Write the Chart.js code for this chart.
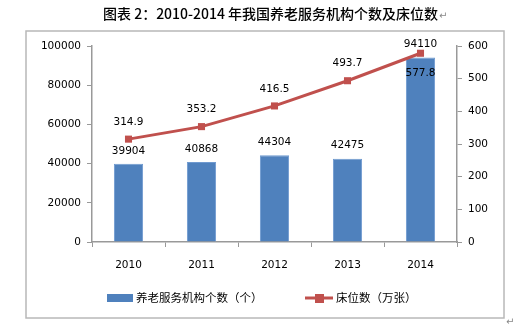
<!DOCTYPE html>
<html>
<head>
<meta charset="utf-8">
<script src="https://cdn.jsdelivr.net/npm/chart.js@4"></script>
<style>
  html, body { margin: 0; padding: 0; background: #fff; }
  #wrap { width: 525px; height: 333px; position: relative; }
</style>
</head>
<body>
<div id="wrap"><canvas id="grafico" width="525" height="333"></canvas></div>
<script>
const titulo = "图表 2：2010-2014 年我国养老服务机构个数及床位数";
const anos = ["2010", "2011", "2012", "2013", "2014"];
const instituicoes = [39904, 40868, 44304, 42475, 94110];
const leitos = [314.9, 353.2, 416.5, 493.7, 577.8];
const labelBarras = "养老服务机构个数（个）";
const labelLinha = "床位数（万张）";

const azul = "#4F81BD";
const vermelho = "#C0504D";
const numFont = "10.5px 'DejaVu Sans'";
const cjkFont = "'Noto Sans CJK SC'";

// moldura, titulo e legenda desenhados a mao
const extras = {
  id: "extras",
  afterDraw(chart) {
    const ctx = chart.ctx;
    ctx.save();
    ctx.strokeStyle = "#b8b8b8";
    ctx.lineWidth = 1.5;
    ctx.strokeRect(26, 31, 478, 287);

    ctx.fillStyle = "#000";
    ctx.font = "500 14px " + cjkFont;
    ctx.textBaseline = "middle";
    ctx.textAlign = "left";
    ctx.fillText(titulo, 103, 14);
    let w = ctx.measureText(titulo).width;
    ctx.fillStyle = "#888";
    ctx.font = "10px 'DejaVu Sans'";
    ctx.fillText("↵", 103 + w + 1, 16);
    ctx.fillText("↵", 506, 322);

    // legenda
    const barras = chart.data.datasets.find((d) => d.type === "bar");
    const linha = chart.data.datasets.find((d) => d.type === "line");
    const ly = 298;
    ctx.fillStyle = azul;
    ctx.fillRect(107, ly - 4, 26, 8);
    ctx.fillStyle = "#000";
    ctx.font = "11.5px " + cjkFont;
    ctx.fillText(barras.label, 136, ly);

    ctx.strokeStyle = vermelho;
    ctx.lineWidth = 3;
    ctx.beginPath();
    ctx.moveTo(305, ly);
    ctx.lineTo(333, ly);
    ctx.stroke();
    ctx.fillStyle = vermelho;
    ctx.fillRect(315, ly - 4, 9, 9);
    ctx.fillStyle = "#000";
    ctx.fillText(linha.label, 336, ly);
    ctx.restore();
  },
};

// rotulos de valores
const rotulos = {
  id: "rotulos",
  afterDatasetsDraw(chart) {
    const ctx = chart.ctx;
    ctx.save();
    ctx.font = numFont;
    ctx.fillStyle = "#000";
    ctx.textAlign = "center";
    ctx.textBaseline = "middle";
    chart.data.datasets.forEach((ds, i) => {
      const meta = chart.getDatasetMeta(i);
      meta.data.forEach((el, j) => {
        let y;
        if (ds.type === "bar") {
          y = el.y - 13;
        } else {
          y = j === ds.data.length - 1 ? el.y + 20 : el.y - 17;
        }
        ctx.fillText(ds.data[j], el.x, y);
      });
    });
    ctx.restore();
  },
};

new Chart(document.getElementById("grafico"), {
  data: {
    labels: anos,
    datasets: [
      {
        type: "line",
        label: labelLinha,
        data: leitos,
        yAxisID: "y2",
        borderColor: vermelho,
        backgroundColor: vermelho,
        borderWidth: 3,
        pointStyle: "rect",
        pointRadius: 5,
        pointBorderWidth: 0,
        tension: 0,
        order: 0,
      },
      {
        type: "bar",
        label: labelBarras,
        data: instituicoes,
        yAxisID: "y",
        backgroundColor: azul,
        borderColor: "#6f9ad0",
        borderWidth: 1,
        categoryPercentage: 1,
        barPercentage: 0.4,
        order: 1,
      },
    ],
  },
  options: {
    responsive: false,
    animation: false,
    devicePixelRatio: 1,
    layout: { padding: { top: 46, left: 0, right: 0, bottom: 0 } },
    plugins: {
      legend: { display: false },
      title: { display: false },
      tooltip: { enabled: false },
    },
    scales: {
      x: {
        grid: {
          display: true,
          offset: true,
          drawOnChartArea: false,
          tickLength: 5,
          color: "#999",
        },
        border: { color: "#999", width: 1.5 },
        ticks: {
          color: "#000",
          font: { family: "DejaVu Sans", size: 10.5 },
          padding: 12,
        },
        afterFit(s) { s.height = 333 - 242; },
      },
      y: {
        position: "left",
        min: 0,
        max: 100000,
        grid: { drawOnChartArea: false, tickLength: 5, color: "#999" },
        border: { color: "#999", width: 1.5 },
        ticks: {
          stepSize: 20000,
          color: "#000",
          font: { family: "DejaVu Sans", size: 10.5 },
          padding: 6,
          callback: (v) => String(v),
        },
        afterFit(s) { s.width = 92; },
      },
      y2: {
        position: "right",
        min: 0,
        max: 600,
        grid: { drawOnChartArea: false, tickLength: 5, color: "#999" },
        border: { color: "#999", width: 1.5 },
        ticks: {
          stepSize: 100,
          color: "#000",
          font: { family: "DejaVu Sans", size: 10.5 },
          padding: 6,
          callback: (v) => String(v),
        },
        afterFit(s) { s.width = 525 - 457; },
      },
    },
  },
  plugins: [rotulos, extras],
});
</script>
</body>
</html>
